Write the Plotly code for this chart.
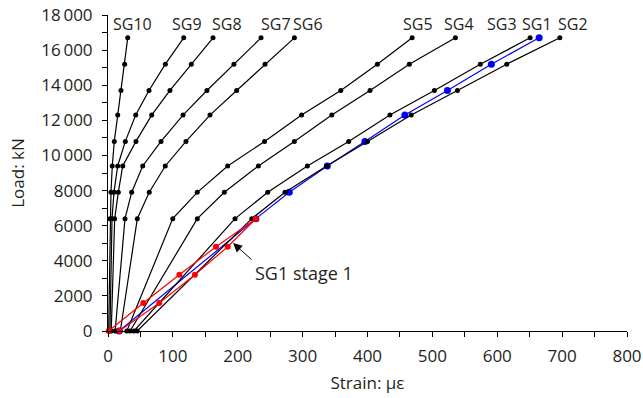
import plotly.graph_objects as go

# Load levels (kN)
loads = [0, 6400, 7900, 9400, 10800, 12300, 13700, 15200, 16700]

# Strain readings (microstrain) for each gauge, stage 2
sg10 = [1, 3.1, 4.6, 6.6, 9.7, 15, 20, 25.7, 30.4]
sg9 = [3, 6.2, 9.2, 14.9, 26.7, 42.7, 63.2, 88.4, 116.7]
sg8 = [5, 10.3, 15.9, 22.7, 43.1, 67.3, 95.5, 128.4, 161.9]
sg7 = [11, 26.2, 36.5, 53.5, 81.7, 115.6, 152.5, 194.1, 235.9]
sg6 = [19, 45.2, 63.6, 88.3, 120.2, 157.2, 198.3, 242, 287.3]
sg5 = [29, 99.8, 137.6, 184.5, 241.3, 298.4, 358.8, 415.2, 468.8]
sg4 = [34, 137.7, 179.3, 231.8, 287.2, 344.9, 403.9, 464.5, 535.5]
sg3 = [40, 195.8, 246.2, 307.3, 371, 434.5, 503.1, 573.9, 650.7]
sg2 = [45, 221.6, 272.8, 337, 400, 467.4, 538.6, 614.6, 696.5]
sg1 = [17, 228, 279.4, 338, 396, 457.6, 523.2, 590.9, 664.6]

# SG1 stage 1 (loading and unloading)
stage1_loads = [0, 1600, 3200, 4800, 6400, 4800, 3200, 1600, 0]
stage1_strain = [1, 54.4, 110, 166.5, 228, 184.5, 134, 79, 17.5]

# Gauge labels at top
label_names = ["SG10", "SG9", "SG8", "SG7", "SG6", "SG5", "SG4", "SG3", "SG1", "SG2"]
label_x = [38.3, 122.5, 183.2, 258.8, 309, 478.5, 541.7, 607, 661, 717.5]
label_y = 17500

ytick_vals = [0, 2000, 4000, 6000, 8000, 10000, 12000, 14000, 16000, 18000]
ytick_text = ["0", "2000", "4000", "6000", "8000", "10\u2009000", "12\u2009000",
              "14\u2009000", "16\u2009000", "18\u2009000"]
xtick_vals = [0, 100, 200, 300, 400, 500, 600, 700, 800]

FONT = "Open Sans"
TXT = "#231f20"
fig = go.Figure()

fig.add_trace(go.Scatter(x=sg1, y=loads, mode="lines+markers",
                         line=dict(color="#0000ff", width=1.2),
                         marker=dict(color="#0000ff", size=7),
                         cliponaxis=False, showlegend=False))

for s in [sg10, sg9, sg8, sg7, sg6, sg5, sg4, sg3, sg2]:
    fig.add_trace(go.Scatter(x=s, y=loads, mode="lines+markers",
                             line=dict(color="black", width=1.2),
                             marker=dict(color="black", size=5),
                             cliponaxis=False, showlegend=False))

fig.add_trace(go.Scatter(x=stage1_strain, y=stage1_loads, mode="lines+markers",
                         line=dict(color="#ff0000", width=1.2),
                         marker=dict(color="#ff0000", size=6),
                         cliponaxis=False, showlegend=False))

for name, lx in zip(label_names, label_x):
    fig.add_annotation(x=lx, y=label_y, text=name, showarrow=False,
                       xanchor="center", yanchor="middle",
                       font=dict(family=FONT, size=16, color=TXT))

# arrow for SG1 stage 1
fig.add_annotation(x=192.8, y=5011, ax=223.6, ay=3990, axref="x", ayref="y",
                   text="", showarrow=True, arrowhead=2, arrowsize=1.8,
                   arrowwidth=1, arrowcolor="black")
fig.add_annotation(x=223.0, y=3330, text="SG1 stage 1", showarrow=False,
                   xanchor="left", yanchor="middle",
                   font=dict(family=FONT, size=18, color=TXT))

axis_common = dict(showgrid=False, zeroline=False, showline=True,
                   linecolor="black", linewidth=1, ticks="outside",
                   ticklen=5, tickwidth=1, tickcolor="black", automargin=False,
                   tickfont=dict(family=FONT, size=17, color=TXT))

fig.update_xaxes(range=[0, 800], tickvals=xtick_vals,
                 minor=dict(dtick=50, ticks="outside", ticklen=5, tickcolor="black"),
                 title=dict(text="Strain: \u03bc\u03b5", standoff=10,
                            font=dict(family=FONT, size=17, color=TXT)),
                 ticklabelstandoff=5, **axis_common)
fig.update_yaxes(range=[0, 18000], tickvals=ytick_vals, ticktext=ytick_text,
                 minor=dict(dtick=1000, ticks="outside", ticklen=5, tickcolor="black"),
                 title=dict(text="Load: kN", standoff=12,
                            font=dict(family=FONT, size=17, color=TXT)),
                 ticklabelstandoff=6, **axis_common)

fig.update_layout(width=643, height=398, margin=dict(l=108, r=16, t=15, b=67),
                  plot_bgcolor="white", paper_bgcolor="white",
                  font=dict(family=FONT, size=16))

fig.write_html("out.html")
